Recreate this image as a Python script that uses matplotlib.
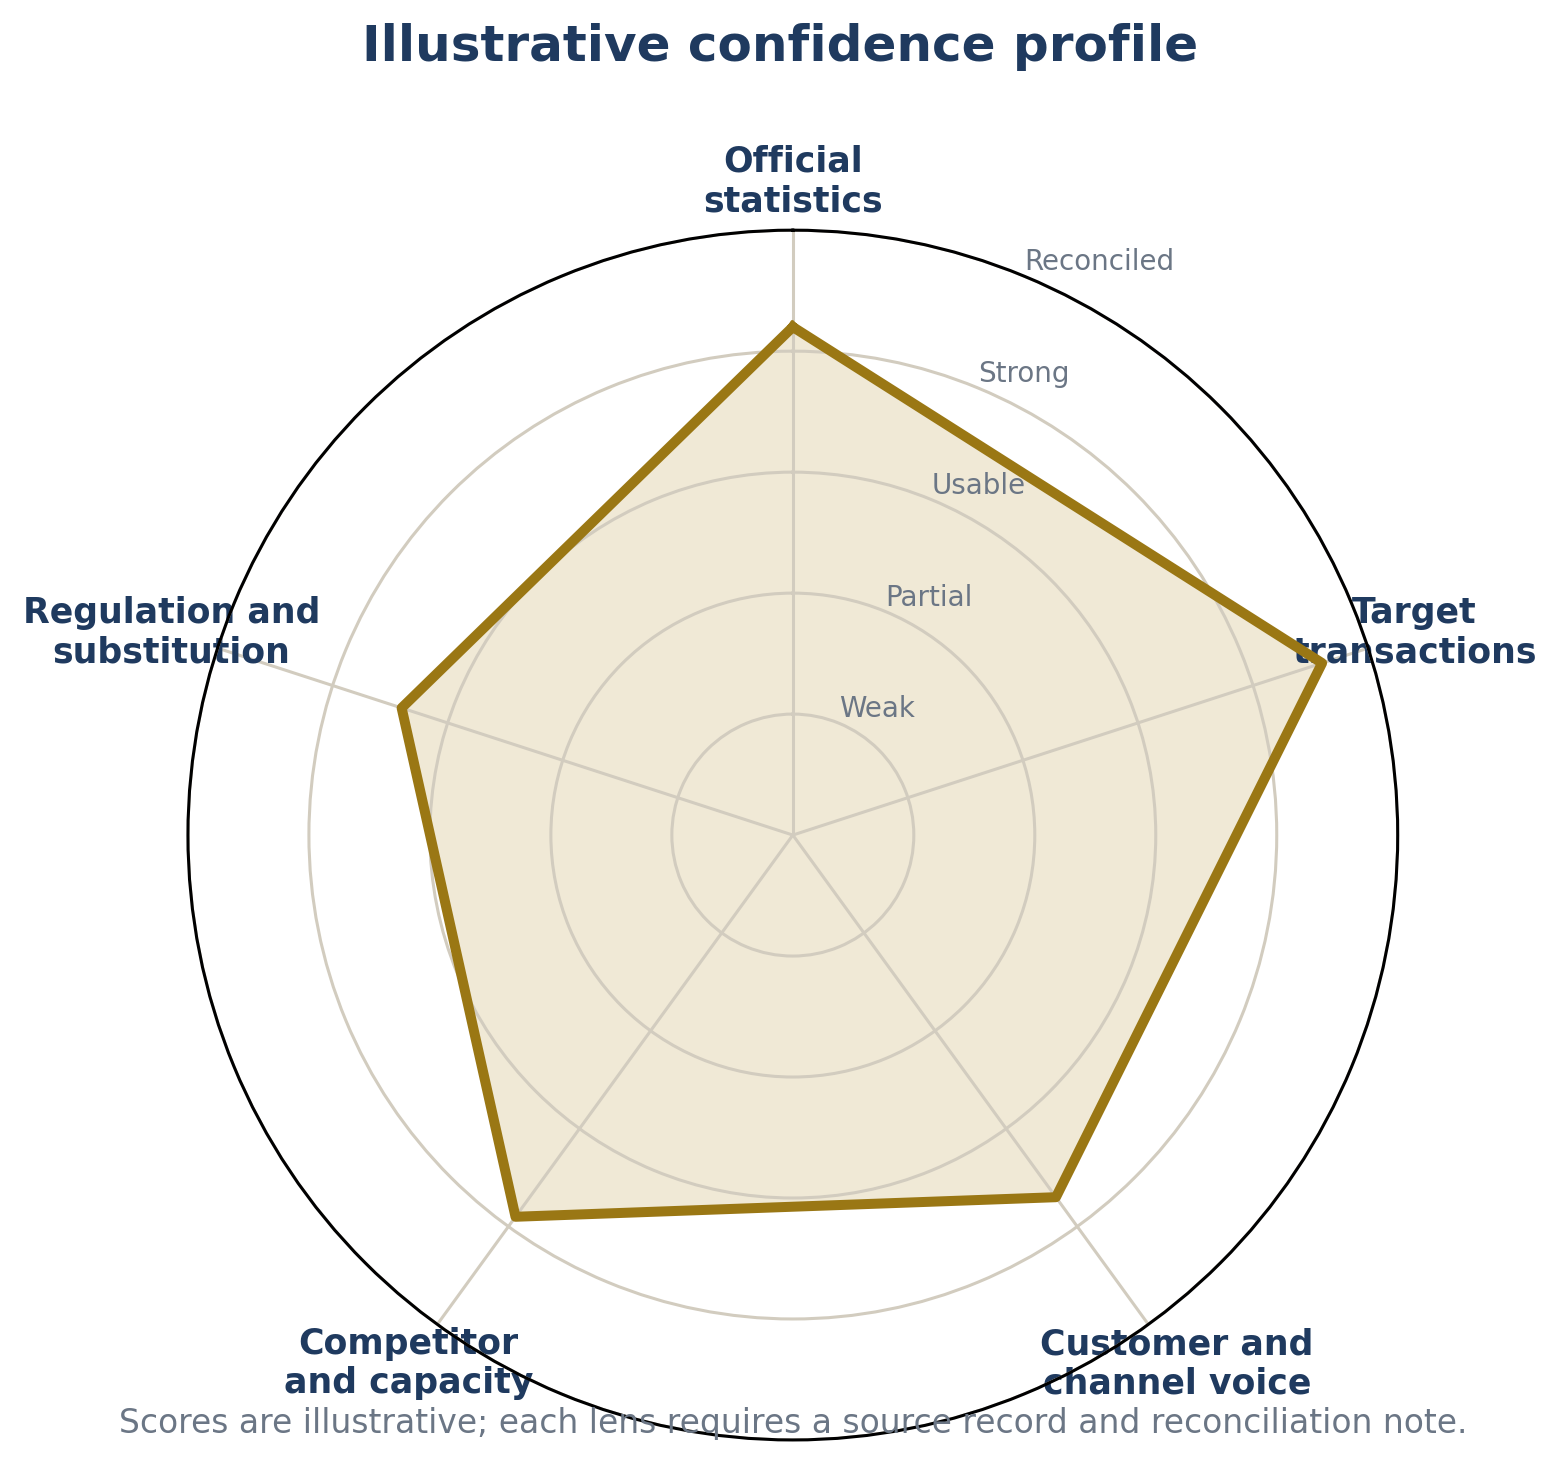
import numpy as np
import matplotlib
matplotlib.use('Agg')
import matplotlib.pyplot as plt

lenses = ['Official\nstatistics', 'Target\ntransactions', 'Customer and\nchannel voice',
          'Competitor\nand capacity', 'Regulation and\nsubstitution']
scores = [4.2, 4.6, 3.7, 3.9, 3.4]
levels = [1, 2, 3, 4, 5]
level_names = ['Weak', 'Partial', 'Usable', 'Strong', 'Reconciled']

navy = '#1f3a5f'
gold = '#9a7714'
fill_col = '#f0e9d6'
grid_col = '#d2ccbf'
muted = '#6b7685'

angles = np.linspace(0, 2 * np.pi, len(lenses), endpoint=False)
ang_closed = np.append(angles, angles[0])
val_closed = np.append(scores, scores[0])

fig = plt.figure(figsize=(7.805, 7.32), dpi=200)
ax = fig.add_axes([0.1204, 0.0163, 0.775, 0.8266], projection='polar')
ax.set_theta_offset(np.pi / 2)
ax.set_theta_direction(-1)

ax.fill(ang_closed, val_closed, color=fill_col, zorder=1)
ax.plot(ang_closed, val_closed, color=gold, linewidth=3.6, zorder=3)

ax.set_ylim(0, 5)
ax.set_yticks(levels)
ax.set_yticklabels(level_names, color=muted, fontsize=10)
ax.set_rlabel_position(22.5)
ax.set_xticks(angles)
ax.set_xticklabels(lenses, fontsize=12.5, fontweight='bold', color=navy)
ax.tick_params(axis='x', pad=7)
ax.grid(color=grid_col, linewidth=1.1, zorder=2)
ax.set_axisbelow(False)
ax.spines['polar'].set_linewidth(1.1)
ax.spines['polar'].set_zorder(5)

fig.suptitle('Illustrative confidence profile', fontsize=18, fontweight='bold',
             color=navy, y=0.984)
fig.text(0.508, 0.028, 'Scores are illustrative; each lens requires a source record and reconciliation note.',
         ha='center', va='center', fontsize=11.85, color=muted)

fig.savefig('out.png', dpi=200)
